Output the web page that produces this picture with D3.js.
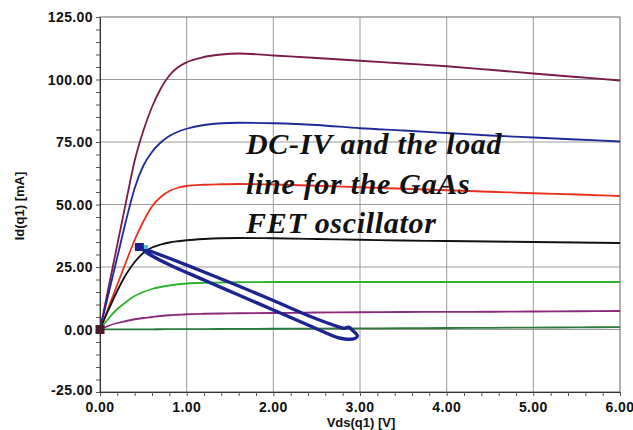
<!DOCTYPE html>
<html><head><meta charset="utf-8">
<script src="https://cdn.jsdelivr.net/npm/d3@7"></script>
<style>
html,body{margin:0;padding:0;background:#fff;}
</style></head>
<body><svg id="c" width="633" height="430"></svg>
<script>
// ---- data ----
const vds = [0,0.1,0.2,0.3,0.4,0.5,0.6,0.7,0.8,0.9,1.0,1.2,1.4,1.6,2.0,2.5,3.0,3.5,4.0,4.5,5.0,5.5,6.0];
const idTop    = [0,17,34,51,67.5,79.5,89,96.3,101.6,104.9,106.9,109.0,110.0,110.4,109.6,108.6,107.5,106.4,105.3,103.9,102.4,101.0,99.6];
const idBlue   = [0,14.5,29,43.5,56.5,65.5,71,74.8,77.4,79.1,80.3,81.8,82.5,82.7,82.5,81.8,80.5,79.6,78.6,77.6,76.8,76.0,75.2];
const idRed    = [0,9,18,27,35.8,43.2,49.2,53.0,55.4,56.7,57.4,57.9,58.1,58.2,58.0,57.5,56.9,56.3,55.7,55.1,54.5,54.0,53.4];
const idBlack  = [0,8,15.5,22,27,30.6,32.8,34,34.8,35.3,35.7,36.2,36.5,36.6,36.5,36.2,35.9,35.6,35.4,35.2,35.0,34.8,34.6];
const idGreen  = [0,4.5,8.2,11.0,13.4,15.0,16.2,17.0,17.6,18.1,18.4,18.7,18.8,18.9,19.0,19.0,19.0,19.0,19.0,19.0,19.0,19.0,19.0];
const idPurple = [0,1.5,2.6,3.4,4.1,4.6,5.0,5.4,5.7,5.9,6.1,6.3,6.4,6.5,6.6,6.8,6.9,7.0,7.05,7.1,7.2,7.3,7.4];
const idLow    = [0,0.02,0.04,0.05,0.07,0.08,0.09,0.11,0.12,0.14,0.15,0.18,0.21,0.24,0.3,0.38,0.45,0.53,0.6,0.68,0.75,0.85,0.95];
const seriesColors = ["#7a1a4a","#1f2a9a","#e8301c","#111111","#2db32d","#8a2a7a","#2a7a3a"];
const seriesValues = [idTop,idBlue,idRed,idBlack,idGreen,idPurple,idLow];
// load line loop (Vds, Id)
const loopV = [0.47,0.8,1.2,1.6,2.0,2.4,2.7,2.82,2.87,2.91,2.97,2.94,2.85,2.75,2.4,2.0,1.6,1.2,0.8,0.55,0.47];
const loopI = [32.8,28.5,23.0,17.4,11.6,5.6,1.7,0.5,0.9,-0.2,-2.6,-3.6,-3.9,-3.3,1.8,7.8,13.8,19.8,25.9,30.5,32.8];
const markerLoad = [0.46,33];
const markerOrigin = [0,0];
const xTicks = [0,1,2,3,4,5,6];
const yTicks = [-25,0,25,50,75,100,125];
const xTitle = "Vds(q1) [V]";
const yTitle = "Id(q1) [mA]";
const note = ["DC-IV and the load","line for the GaAs","FET oscillator"];

// ---- chart ----
const SANS = "Arial,'Liberation Sans',sans-serif";
const svg = d3.select("#c");
const L=100,R=620,T=17,B=392;
const x = d3.scaleLinear().domain([0,6]).range([L,R]);
const y = d3.scaleLinear().domain([-25,125]).range([B,T]);

// grid
svg.append("g").selectAll("line").data(xTicks.slice(1,-1)).join("line")
  .attr("x1",d=>x(d)).attr("x2",d=>x(d)).attr("y1",T).attr("y2",B)
  .attr("stroke","#9a9a9a").attr("stroke-width",1);
svg.append("g").selectAll("line").data(yTicks.slice(1,-1)).join("line")
  .attr("x1",L).attr("x2",R).attr("y1",d=>y(d)).attr("y2",d=>y(d))
  .attr("stroke","#9a9a9a").attr("stroke-width",1);
// frame
svg.append("rect").attr("x",L).attr("y",T).attr("width",R-L).attr("height",B-T)
  .attr("fill","none").attr("stroke","#666").attr("stroke-width",1);

// axes
const xAxis = d3.axisBottom(x).tickValues(d3.range(0,6.001,0.2)).tickSize(4).tickFormat("");
svg.append("g").attr("transform",`translate(0,${B})`).call(xAxis)
  .call(g=>{g.select(".domain").attr("stroke","#333");g.selectAll(".tick line").attr("stroke","#555");});
const yAxis = d3.axisLeft(y).tickValues(d3.range(-25,125.001,5)).tickSize(4).tickFormat("");
svg.append("g").attr("transform",`translate(${L},0)`).call(yAxis)
  .call(g=>{g.select(".domain").attr("stroke","#333");g.selectAll(".tick line").attr("stroke","#555");});

// tick labels
svg.append("g").selectAll("text").data(xTicks).join("text")
  .attr("x",d=>x(d)).attr("y",412).attr("text-anchor","middle")
  .attr("font-family",SANS).attr("font-size",14).attr("font-weight","bold").attr("letter-spacing","0.4")
  .attr("fill","#111").text(d=>d.toFixed(2));
svg.append("g").selectAll("text").data(yTicks).join("text")
  .attr("x",93).attr("y",d=>y(d)+5 - (d===-25?2:0)).attr("text-anchor","end")
  .attr("font-family",SANS).attr("font-size",14).attr("font-weight","bold").attr("letter-spacing","0.4")
  .attr("fill","#111").text(d=>d.toFixed(2));
// titles
svg.append("text").attr("x",361).attr("y",427).attr("text-anchor","middle")
  .attr("font-family",SANS).attr("font-size",13).attr("font-weight","bold").attr("fill","#111").text(xTitle);
svg.append("text").attr("transform","translate(24,206) rotate(-90)").attr("text-anchor","middle")
  .attr("font-family",SANS).attr("font-size",13).attr("font-weight","bold").attr("fill","#111").text(yTitle);

// curves
const line = d3.line().x(d=>x(d[0])).y(d=>y(d[1])).curve(d3.curveMonotoneX);
const plot = svg.append("g");
seriesValues.forEach((vals,i)=>{
  plot.append("path").datum(vds.map((v,j)=>[v,vals[j]]))
    .attr("d",line).attr("fill","none").attr("stroke",seriesColors[i]).attr("stroke-width",1.8);
});

// load line loop
const loopLine = d3.line().x(d=>x(d[0])).y(d=>y(d[1])).curve(d3.curveCatmullRom);
const loopData = loopV.map((v,i)=>[v,loopI[i]]);
plot.append("path").datum(loopData).attr("d",loopLine).attr("fill","none")
  .attr("stroke","#1c2490").attr("stroke-width",3.4).attr("stroke-linejoin","round");
// markers
plot.append("rect").attr("x",x(markerLoad[0])-5).attr("y",y(markerLoad[1])-4).attr("width",9).attr("height",8)
  .attr("fill","#1a1f8a");
plot.append("rect").attr("x",x(markerLoad[0])+4).attr("y",y(markerLoad[1])-2).attr("width",4).attr("height",4)
  .attr("fill","#4fb8e8");
plot.append("rect").attr("x",x(markerOrigin[0])-4.5).attr("y",y(markerOrigin[1])-4.5).attr("width",9).attr("height",9)
  .attr("fill","#4a1a2a");

// annotation
svg.append("g").selectAll("text").data(note).join("text")
  .attr("x",246).attr("y",(d,i)=>154+i*39.5)
  .attr("font-family","'Liberation Serif','Times New Roman',serif")
  .attr("font-style","italic").attr("font-weight","bold").attr("font-size",30)
  .attr("letter-spacing","0.7")
  .attr("fill","#111").text(d=>d);
</script></body></html>
